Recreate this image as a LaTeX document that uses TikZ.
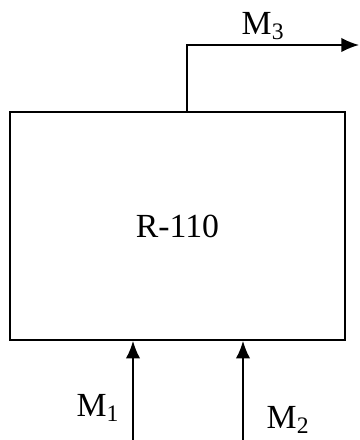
\documentclass[tikz,border=0pt]{standalone}
\usepackage{fontspec}
\setmainfont{Liberation Serif}
\usepackage{tikz}
\usetikzlibrary{arrows.meta,positioning,calc}

\begin{document}
\begin{tikzpicture}[x=0.025cm, y=-0.025cm, every node/.style={font=\fontsize{24}{28}\selectfont}, flow/.style={-{Latex[length=4.4mm,width=3.6mm]}, line width=1.2pt}]
\useasboundingbox (0,0) rectangle (360,440);
\node[draw, line width=1.2pt, minimum width=8.375cm, minimum height=5.7cm, inner sep=0pt] (reactor) at (177.5,226) {R-110};
\coordinate (m1start) at (133,440);
\coordinate (m2start) at (243,440);
\coordinate (m3bend) at (187,45);
\coordinate (m3end) at (359,45);
\node (m1label) at (98,408) {M\textsubscript{1}};
\node (m2label) at (288,420) {M\textsubscript{2}};
\node (m3label) at (263,26) {M\textsubscript{3}};
\draw[flow] (m1start) -- (m1start |- reactor.south);
\draw[flow] (m2start) -- (m2start |- reactor.south);
\draw[flow] (m3bend |- reactor.north) -- (m3bend) -- (m3end);
\end{tikzpicture}
\end{document}
